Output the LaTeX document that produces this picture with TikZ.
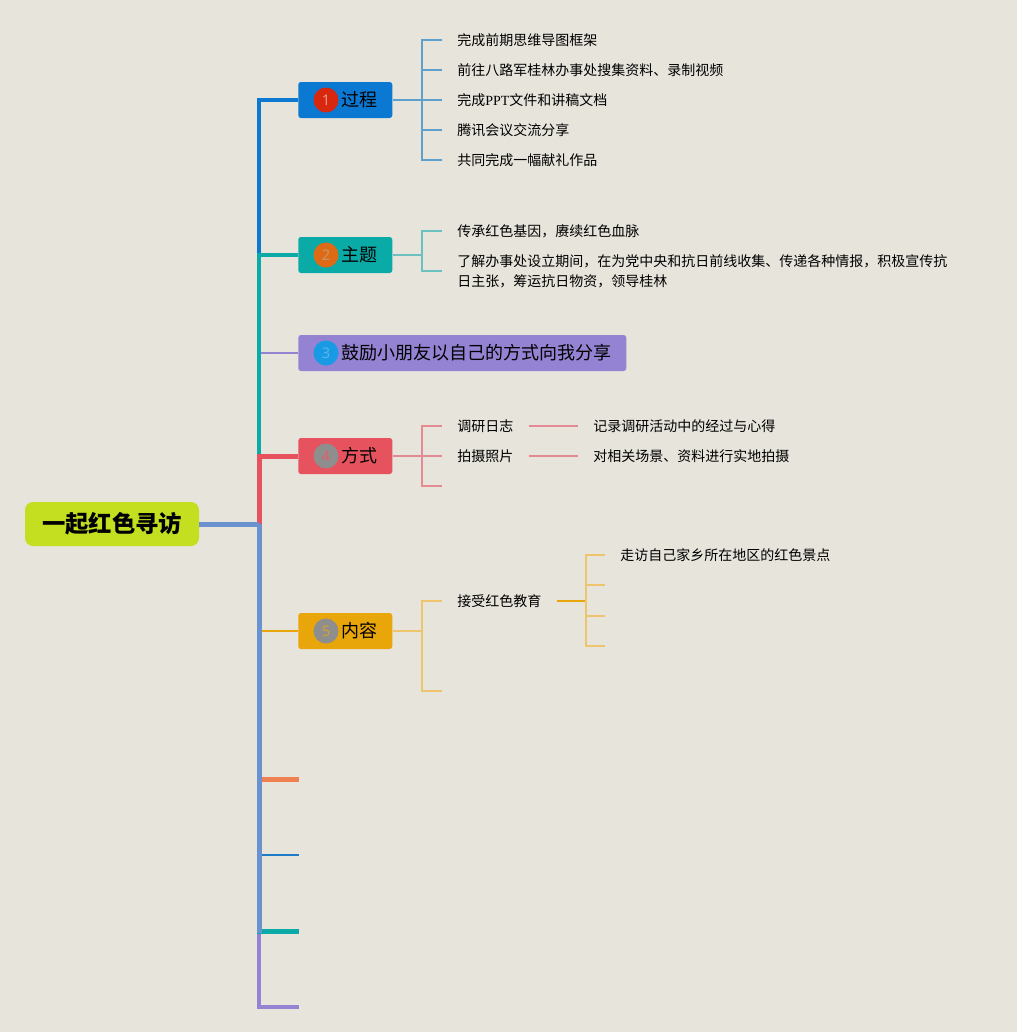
\documentclass[tikz,border=0pt]{standalone}
\usepackage{fontspec}
\setmainfont{Noto Sans CJK SC}
\newfontfamily\pptfont{Liberation Serif}
\newfontfamily\numfont{Noto Sans}
\definecolor{bgc}{HTML}{E7E4DC}
\definecolor{rootc}{HTML}{C3DF20}
\definecolor{lowc}{HTML}{6A92CF}
\definecolor{cA}{HTML}{0B78D1}
\definecolor{cB}{HTML}{0AAAA6}
\definecolor{cC}{HTML}{9482D2}
\definecolor{cD}{HTML}{E6525E}
\definecolor{cE}{HTML}{E9A60B}
\definecolor{cF}{HTML}{EE8052}
\definecolor{cG}{HTML}{1E7CC6}
\definecolor{kA}{HTML}{5E9FCB}
\definecolor{kB}{HTML}{6CC0BD}
\definecolor{kD}{HTML}{E38A92}
\definecolor{kE}{HTML}{EEC56C}
\definecolor{dotA}{HTML}{D8270F}
\definecolor{dotB}{HTML}{DF6A16}
\definecolor{dotC}{HTML}{189BE4}
\definecolor{dotG}{HTML}{8E8E8E}
\definecolor{numA}{HTML}{F09687}
\definecolor{numB}{HTML}{C89664}
\definecolor{numC}{HTML}{5AB4EB}
\definecolor{numD}{HTML}{E15F6E}
\definecolor{numE}{HTML}{D7A032}
\tikzset{
	branch/.style={rectangle, rounded corners=2pt, inner xsep=11.25pt, inner ysep=0pt, minimum height=27pt, anchor=west, font=\fontsize{13.5}{16}\selectfont},
	numdot/.style={circle, inner sep=0pt, minimum size=18.75pt, font=\numfont\fontsize{11}{12}\selectfont},
	kid/.style={anchor=west, inner xsep=11.25pt, inner ysep=1pt, font=\fontsize{10.5}{15}\selectfont},
	twig/.style={line width=1.1pt},
}

\begin{document}
\begin{tikzpicture}[x=0.75pt, y=-0.75pt]
		%%%%% START %%%%%
		
		\useasboundingbox (0,0) rectangle (1017,1032);
		\fill[bgc] (0,0) rectangle (1017,1032);
		
		% root and main boxes
		\node[fill=rootc, rounded corners=6pt, minimum width=130.5pt, minimum height=33pt, font=\fontsize{17.5}{20}\selectfont\bfseries] (root) at (112,524) {一起红色寻访};
		\coordinate (hub) at (259,524);
		\coordinate (tEnd) at (259,933);
		
		\node[branch, fill=cA] (gc) at (298,100) {\hspace{21pt}过程};
		\node[branch, fill=cB] (zt) at (298,255) {\hspace{21pt}主题};
		\node[branch, fill=cC] (gl) at (298,353) {\hspace{21pt}鼓励小朋友以自己的方式向我分享};
		\node[branch, fill=cD] (fs) at (298,456) {\hspace{21pt}方式};
		\node[branch, fill=cE] (nr) at (298,631) {\hspace{21pt}内容};
		
		\node[numdot, fill=dotA, text=numA] (gc-n) at (326,100) {1};
		\node[numdot, fill=dotB, text=numB] (zt-n) at (326,255) {2};
		\node[numdot, fill=dotC, text=numC] (gl-n) at (326,353) {3};
		\node[numdot, fill=dotG, text=numD] (fs-n) at (326,456) {4};
		\node[numdot, fill=dotG, text=numE] (nr-n) at (326,631) {5};
		
		\coordinate (b6) at (299,779);
		\coordinate (b7) at (299,855);
		\coordinate (b8) at (299,931);
		\coordinate (b9) at (299,1007);
		
		% trunk
		\draw[line width=3pt, cA] (hub) |- (gc.west);
		\draw[line width=1.1pt, cC] (hub) |- (gl.west);
		\draw[line width=3pt, cB] (hub) |- (zt.west);
		\draw[line width=3.75pt, cD] (hub) |- (fs.west);
		\draw[line width=2.6pt, cC] (hub) |- (b9);
		\draw[line width=1.1pt, cE] (hub) |- (nr.west);
		\draw[line width=3.75pt, cF] (hub) |- (b6);
		\draw[line width=1.1pt, cG] (hub) |- (b7);
		\draw[line width=3.75pt, cB] (hub) |- (b8);
		\draw[line width=3.75pt, lowc] (hub) -- (tEnd);
		\draw[line width=3.75pt, lowc] (root.east) -- (hub);
		
		% 过程
		\node[kid] (gc1) at (442,40) {完成前期思维导图框架};
		\node[kid] (gc2) at (442,70) {前往八路军桂林办事处搜集资料、录制视频};
		\node[kid] (gc3) at (442,100) {完成{\pptfont PPT}文件和讲稿文档};
		\node[kid] (gc4) at (442,130) {腾讯会议交流分享};
		\node[kid] (gc5) at (442,160) {共同完成一幅献礼作品};
		\coordinate (gcb) at (422,100);
		\draw[twig, kA] (gc.east) -- (gcb);
		\foreach \k in {1,...,5}
			\draw[twig, kA] (gcb) |- (gc\k.west);
		
		% 主题
		\node[kid] (zt1) at (442,231) {传承红色基因，赓续红色血脉};
		\node[kid, align=left] (zt2) at (442,271) {了解办事处设立期间，在为党中央和抗日前线收集、传递各种情报，积极宣传抗\\日主张，筹运抗日物资，领导桂林};
		\coordinate (ztb) at (422,255);
		\draw[twig, kB] (zt.east) -- (ztb);
		\draw[twig, kB] (ztb) |- (zt1.west);
		\draw[twig, kB] (ztb) |- (zt2.west);
		
		% 方式
		\node[kid] (fs1) at (442,426) {调研日志};
		\node[kid] (fs2) at (442,456) {拍摄照片};
		\coordinate (fs3) at (442,486);
		\node[kid] (fs1r) at (578,426) {记录调研活动中的经过与心得};
		\node[kid] (fs2r) at (578,456) {对相关场景、资料进行实地拍摄};
		\coordinate (fsb) at (422,456);
		\draw[twig, kD] (fs.east) -- (fsb);
		\draw[twig, kD] (fsb) |- (fs1.west);
		\draw[twig, kD] (fsb) |- (fs2.west);
		\draw[twig, kD] (fsb) |- (fs3);
		\draw[twig, kD] (fs1.east) -- (fs1r.west);
		\draw[twig, kD] (fs2.east) -- (fs2r.west);
		
		% 内容
		\node[kid] (nr1) at (442,601) {接受红色教育};
		\coordinate (nr2) at (442,691);
		\coordinate (nrb) at (422,631);
		\draw[twig, kE] (nr.east) -- (nrb);
		\draw[twig, kE] (nrb) |- (nr1.west);
		\draw[twig, kE] (nrb) |- (nr2);
		
		\node[kid] (nr1a) at (605,555) {走访自己家乡所在地区的红色景点};
		\coordinate (nr1b) at (605,585);
		\coordinate (nr1c) at (605,616);
		\coordinate (nr1d) at (605,646);
		\coordinate (nrc) at (586,601);
		\draw[twig, cE] (nr1.east) -- (nrc);
		\draw[twig, kE] (nrc) |- (nr1a.west);
		\draw[twig, kE] (nrc) |- (nr1b);
		\draw[twig, kE] (nrc) |- (nr1c);
		\draw[twig, kE] (nrc) |- (nr1d);
		
		%%%%% END %%%%%
\end{tikzpicture}
\end{document}
